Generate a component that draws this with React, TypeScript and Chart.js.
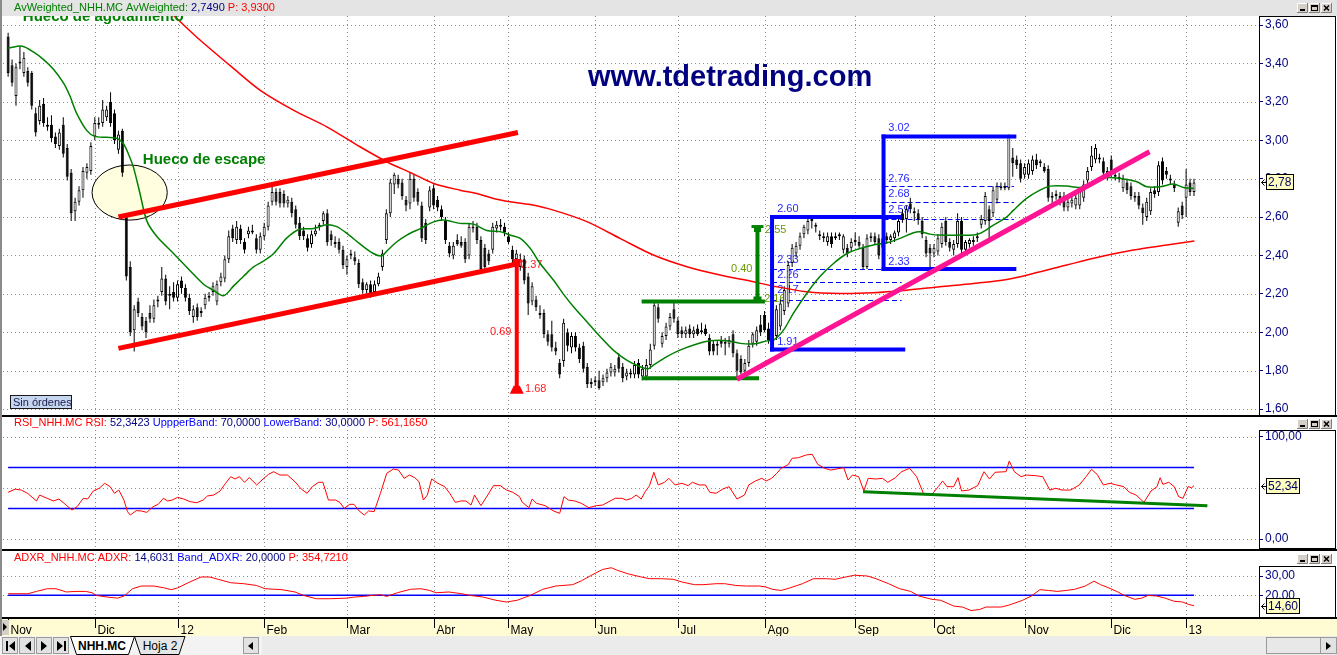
import React, { useEffect, useRef } from 'react';
import { Chart, registerables } from 'chart.js';

Chart.register(...registerables);

// ---------------- DATA ----------------
const OPEN = [
  3.54,3.39,3.23,3.40,3.35,3.36,3.35,3.14,3.10,3.19,
  3.08,3.08,3.02,2.97,3.08,2.96,2.83,2.63,2.68,2.74,
  2.83,2.84,3.02,3.09,3.09,3.12,3.20,3.14,2.95,3.05,
  2.61,2.34,2.01,2.16,2.08,2.06,2.10,2.07,2.16,2.21,
  2.28,2.19,2.21,2.18,2.27,2.23,2.18,2.08,2.13,2.10,
  2.14,2.18,2.21,2.16,2.26,2.28,2.38,2.54,2.48,2.54,
  2.47,2.51,2.53,2.49,2.43,2.50,2.55,2.68,2.73,2.73,
  2.72,2.67,2.68,2.64,2.57,2.53,2.49,2.46,2.51,2.55,
  2.58,2.62,2.51,2.47,2.47,2.43,2.34,2.40,2.39,2.36,
  2.26,2.22,2.25,2.21,2.25,2.34,2.48,2.62,2.77,2.80,
  2.78,2.69,2.67,2.80,2.73,2.66,2.57,2.65,2.75,2.69,
  2.64,2.58,2.45,2.40,2.48,2.47,2.47,2.40,2.54,2.55,
  2.48,2.44,2.41,2.43,2.54,2.55,2.55,2.50,2.43,2.38,
  2.34,2.38,2.29,2.16,2.17,2.10,2.10,1.99,1.99,1.92,
  1.84,1.85,2.00,1.92,1.98,1.92,1.93,1.82,1.73,1.74,
  1.75,1.74,1.76,1.79,1.79,1.87,1.82,1.77,1.78,1.78,
  1.84,1.77,1.77,1.83,1.93,2.13,1.94,1.98,2.03,2.12,
  2.06,2.01,1.99,2.02,1.99,2.02,2.01,2.02,1.97,1.94,
  1.93,1.96,1.95,1.94,1.99,1.89,1.86,1.80,1.84,1.94,
  1.95,2.04,2.09,2.02,1.96,1.98,2.03,2.11,2.15,2.36,
  2.41,2.45,2.51,2.53,2.58,2.56,2.51,2.50,2.47,2.50,
  2.49,2.50,2.43,2.44,2.44,2.48,2.47,2.44,2.34,2.50,
  2.50,2.49,2.44,2.50,2.48,2.49,2.52,2.62,2.59,2.67,
  2.63,2.62,2.58,2.48,2.44,2.41,2.42,2.46,2.58,2.47,
  2.43,2.46,2.58,2.43,2.46,2.47,2.49,2.56,2.58,2.64,
  2.62,2.69,2.75,2.75,2.75,2.91,2.90,2.88,2.82,2.82,
  2.84,2.90,2.88,2.86,2.85,2.70,2.71,2.71,2.71,2.65,
  2.67,2.66,2.66,2.70,2.79,2.86,2.90,2.91,2.89,2.84,
  2.90,2.82,2.80,2.75,2.78,2.76,2.70,2.71,2.65,2.60,
  2.63,2.74,2.73,2.89,2.84,2.80,2.77,2.57,2.66,2.70,
  2.78,2.73,
];
const HIGH = [
  3.56,3.42,3.40,3.49,3.46,3.38,3.36,3.17,3.21,3.22,
  3.12,3.13,3.04,3.06,3.12,2.98,2.85,2.70,2.76,2.86,
  2.88,2.99,3.12,3.12,3.21,3.18,3.25,3.16,3.05,3.06,
  2.62,2.37,2.14,2.18,2.10,2.08,2.14,2.17,2.19,2.34,
  2.30,2.24,2.26,2.27,2.29,2.25,2.20,2.14,2.15,2.13,
  2.20,2.21,2.26,2.27,2.31,2.40,2.53,2.56,2.58,2.56,
  2.49,2.55,2.56,2.51,2.52,2.57,2.68,2.78,2.75,2.75,
  2.74,2.71,2.70,2.66,2.60,2.55,2.51,2.53,2.56,2.57,
  2.63,2.64,2.53,2.50,2.49,2.45,2.40,2.43,2.42,2.38,
  2.28,2.26,2.27,2.27,2.31,2.43,2.64,2.80,2.83,2.82,
  2.80,2.71,2.83,2.82,2.75,2.68,2.59,2.76,2.77,2.71,
  2.66,2.60,2.47,2.47,2.51,2.50,2.49,2.57,2.58,2.57,
  2.50,2.46,2.43,2.57,2.58,2.59,2.57,2.52,2.45,2.43,
  2.41,2.40,2.31,2.26,2.19,2.14,2.12,2.01,2.06,1.95,
  1.86,2.07,2.02,2.00,2.00,1.94,1.95,1.84,1.76,1.77,
  1.80,1.78,1.81,1.84,1.83,1.89,1.84,1.81,1.81,1.85,
  1.86,1.83,1.86,1.94,2.16,2.15,2.00,2.05,2.10,2.16,
  2.08,2.03,2.03,2.04,2.03,2.04,2.05,2.04,1.99,1.96,
  1.96,1.98,1.97,1.98,2.01,1.91,1.88,1.86,1.96,2.00,
  2.03,2.09,2.11,2.05,2.00,2.14,2.17,2.24,2.37,2.46,
  2.47,2.52,2.56,2.59,2.60,2.57,2.53,2.52,2.52,2.52,
  2.52,2.52,2.51,2.46,2.49,2.52,2.50,2.46,2.51,2.52,
  2.52,2.51,2.51,2.52,2.51,2.53,2.60,2.64,2.66,2.70,
  2.65,2.64,2.60,2.50,2.46,2.46,2.51,2.57,2.60,2.49,
  2.48,2.62,2.60,2.48,2.49,2.50,2.52,2.61,2.73,2.66,
  2.76,2.78,2.78,2.78,3.03,2.96,2.92,2.90,2.88,2.90,
  2.92,2.93,2.90,2.88,2.87,2.73,2.74,2.73,2.73,2.70,
  2.71,2.72,2.75,2.79,2.86,2.97,2.98,2.93,2.91,2.86,
  2.92,2.84,2.83,2.82,2.80,2.78,2.73,2.73,2.67,2.70,
  2.75,2.76,2.89,2.91,2.86,2.82,2.79,2.65,2.68,2.85,
  2.80,2.80,
];
const LOW = [
  3.33,3.28,3.18,3.37,3.33,3.28,3.16,3.02,3.08,3.07,
  3.05,2.99,2.96,2.95,2.91,2.79,2.58,2.58,2.66,2.70,
  2.80,2.82,3.00,3.06,3.07,3.10,3.07,2.98,2.93,2.81,
  2.27,1.98,1.90,2.08,2.01,1.97,2.05,2.05,2.13,2.19,
  2.14,2.12,2.16,2.16,2.20,2.16,2.09,2.05,2.06,2.08,
  2.12,2.16,2.19,2.14,2.24,2.26,2.36,2.47,2.46,2.46,
  2.41,2.49,2.51,2.41,2.41,2.48,2.53,2.66,2.66,2.65,
  2.65,2.65,2.60,2.54,2.48,2.48,2.42,2.44,2.50,2.53,
  2.56,2.45,2.45,2.44,2.41,2.33,2.30,2.38,2.35,2.23,
  2.20,2.20,2.18,2.19,2.24,2.32,2.46,2.60,2.72,2.75,
  2.69,2.63,2.64,2.68,2.66,2.47,2.46,2.63,2.64,2.63,
  2.58,2.46,2.39,2.38,2.45,2.44,2.36,2.38,2.52,2.46,
  2.31,2.32,2.35,2.41,2.52,2.53,2.50,2.46,2.36,2.34,
  2.32,2.25,2.09,2.14,2.11,2.07,1.97,1.93,1.90,1.88,
  1.76,1.82,1.90,1.89,1.90,1.84,1.79,1.71,1.71,1.72,
  1.70,1.72,1.74,1.77,1.77,1.79,1.74,1.75,1.76,1.76,
  1.76,1.75,1.75,1.81,1.91,2.05,1.92,1.96,2.01,2.05,
  1.97,1.97,1.97,1.97,1.97,1.98,1.99,1.98,1.88,1.88,
  1.88,1.92,1.88,1.92,1.87,1.76,1.78,1.78,1.82,1.92,
  1.93,1.98,2.00,1.94,1.91,1.96,2.01,2.09,2.13,2.34,
  2.39,2.43,2.49,2.51,2.54,2.52,2.48,2.47,2.45,2.44,
  2.48,2.48,2.41,2.39,2.42,2.45,2.44,2.33,2.33,2.47,
  2.46,2.38,2.42,2.46,2.46,2.47,2.50,2.57,2.52,2.62,
  2.58,2.56,2.49,2.39,2.33,2.39,2.40,2.44,2.45,2.42,
  2.40,2.44,2.41,2.41,2.44,2.45,2.47,2.54,2.56,2.47,
  2.60,2.67,2.74,2.74,2.74,2.81,2.85,2.78,2.80,2.80,
  2.82,2.85,2.86,2.83,2.68,2.66,2.69,2.66,2.63,2.63,
  2.65,2.64,2.64,2.68,2.77,2.84,2.88,2.88,2.81,2.79,
  2.81,2.79,2.78,2.73,2.72,2.69,2.68,2.64,2.56,2.58,
  2.61,2.70,2.71,2.77,2.80,2.77,2.73,2.55,2.59,2.60,
  2.71,2.71,
];
const CLOSE = [
  3.35,3.30,3.38,3.41,3.43,3.30,3.18,3.04,3.18,3.09,
  3.07,3.01,2.98,3.04,2.93,2.81,2.62,2.68,2.74,2.84,
  2.86,2.97,3.09,3.08,3.16,3.16,3.09,3.00,3.03,2.83,
  2.29,2.00,2.12,2.10,2.03,2.00,2.07,2.14,2.17,2.28,
  2.16,2.20,2.18,2.25,2.23,2.18,2.11,2.12,2.08,2.11,
  2.18,2.19,2.24,2.25,2.29,2.38,2.50,2.49,2.55,2.48,
  2.43,2.53,2.52,2.43,2.50,2.55,2.66,2.73,2.68,2.67,
  2.67,2.69,2.62,2.56,2.50,2.50,2.44,2.51,2.53,2.55,
  2.62,2.47,2.48,2.46,2.43,2.35,2.38,2.41,2.37,2.25,
  2.22,2.25,2.20,2.25,2.29,2.41,2.62,2.78,2.82,2.77,
  2.71,2.66,2.80,2.70,2.68,2.49,2.48,2.74,2.66,2.65,
  2.60,2.48,2.41,2.45,2.46,2.45,2.38,2.55,2.55,2.48,
  2.33,2.34,2.37,2.55,2.56,2.56,2.52,2.47,2.38,2.41,
  2.38,2.27,2.15,2.24,2.13,2.09,1.99,1.95,1.92,1.90,
  1.78,2.05,1.93,1.98,1.92,1.86,1.81,1.73,1.74,1.75,
  1.71,1.76,1.79,1.82,1.81,1.81,1.76,1.79,1.78,1.83,
  1.78,1.81,1.83,1.91,2.14,2.07,1.98,2.03,2.08,2.07,
  1.99,1.99,2.01,1.99,2.01,1.99,2.00,1.99,1.90,1.90,
  1.94,1.94,1.94,1.96,1.89,1.80,1.79,1.84,1.93,1.99,
  2.01,2.00,2.01,1.96,1.98,2.12,2.15,2.22,2.35,2.44,
  2.45,2.50,2.55,2.58,2.59,2.55,2.50,2.49,2.50,2.46,
  2.50,2.50,2.50,2.41,2.47,2.47,2.45,2.34,2.49,2.49,
  2.47,2.40,2.49,2.48,2.50,2.52,2.58,2.59,2.64,2.64,
  2.62,2.59,2.51,2.41,2.41,2.44,2.49,2.55,2.47,2.44,
  2.46,2.58,2.43,2.47,2.48,2.48,2.50,2.59,2.71,2.58,
  2.74,2.76,2.76,2.76,3.02,2.88,2.87,2.80,2.86,2.88,
  2.90,2.87,2.88,2.84,2.70,2.71,2.72,2.68,2.65,2.68,
  2.69,2.70,2.73,2.77,2.84,2.92,2.96,2.90,2.83,2.81,
  2.83,2.81,2.80,2.80,2.74,2.71,2.71,2.66,2.62,2.68,
  2.73,2.72,2.87,2.79,2.82,2.79,2.75,2.63,2.61,2.77,
  2.73,2.78,
];

const MONTH_LABELS = ['Nov', 'Dic', '12', 'Feb', 'Mar', 'Abr', 'May', 'Jun', 'Jul', 'Ago', 'Sep', 'Oct', 'Nov', 'Dic', '13'];
const MONTH_START = [0, 22, 43, 65, 86, 108, 127, 149, 170, 192, 215, 235, 258, 280, 299];

const PRICE_TICKS = [1.6, 1.8, 2.0, 2.2, 2.4, 2.6, 2.8, 3.0, 3.2, 3.4, 3.6];

// AvWeighted (green): bar index / value
const AVW_IDX = [0, 3.6, 6.4, 9, 11.5, 14, 15.7, 17.4, 20, 22, 25, 27.6, 29.3, 30.5, 31.8, 33.5, 35.2, 37.7, 42, 46.2, 49.6, 52, 54.7, 57.2, 59.7, 62.3, 64.8, 67.4, 70.7, 74, 77.5, 80.9, 83.4, 86, 89.3, 92.7, 94.8, 96, 98.6, 101.2, 104.6, 108, 110.5, 114.7, 118.1, 121.5, 124.9, 127.4, 129.9, 132.5, 135, 138.4, 140.9, 143.5, 146.9, 150.3, 153.6, 157, 160.4, 162.5, 163.8, 167.2, 170.5, 174.8, 178.2, 182.4, 185.8, 189.2, 192.6, 194.3, 196.8, 199.3, 202.7, 206, 209.5, 212.9, 216.2, 219.6, 223, 226.4, 229.8, 231.5, 234, 236.5, 241.6, 245, 246.7, 250.1, 253.5, 255.2, 258.5, 261.9, 264.5, 268.7, 272, 274.6, 277.2, 280.5, 283.9, 286.5, 289, 292.4, 295.8, 298.3, 301];
const AVW_VAL = [3.48, 3.49, 3.46, 3.42, 3.37, 3.30, 3.23, 3.14, 3.05, 3.02, 3.015, 3.01, 2.98, 2.93, 2.86, 2.72, 2.58, 2.50, 2.41, 2.32, 2.25, 2.22, 2.19, 2.24, 2.29, 2.34, 2.37, 2.41, 2.49, 2.536, 2.54, 2.56, 2.55, 2.515, 2.46, 2.41, 2.397, 2.42, 2.47, 2.506, 2.54, 2.575, 2.584, 2.567, 2.563, 2.53, 2.524, 2.506, 2.49, 2.437, 2.359, 2.272, 2.20, 2.133, 2.055, 1.977, 1.907, 1.855, 1.82, 1.81, 1.829, 1.873, 1.907, 1.939, 1.956, 1.956, 1.942, 1.939, 1.955, 1.959, 2.011, 2.098, 2.202, 2.289, 2.358, 2.41, 2.436, 2.454, 2.466, 2.489, 2.518, 2.523, 2.511, 2.506, 2.506, 2.506, 2.515, 2.558, 2.601, 2.636, 2.697, 2.74, 2.761, 2.761, 2.754, 2.772, 2.801, 2.805, 2.796, 2.784, 2.758, 2.758, 2.772, 2.754, 2.749];

// long moving average (red)
const MA_IDX = [41.9, 48.7, 57.2, 64, 72.4, 80.9, 89.3, 96.1, 102.6, 108, 114.7, 119, 123.2, 127.4, 132.5, 138.4, 146.9, 155.3, 163.8, 172.3, 180.7, 189.2, 194.2, 202.7, 211.2, 219.6, 228, 236.5, 245, 253.5, 260.2, 268.7, 277.2, 285.6, 294.1, 301.1];
const MA_VAL = [3.652, 3.522, 3.374, 3.26, 3.157, 3.07, 2.966, 2.888, 2.827, 2.775, 2.74, 2.723, 2.697, 2.68, 2.665, 2.636, 2.576, 2.489, 2.402, 2.341, 2.298, 2.263, 2.24, 2.211, 2.202, 2.206, 2.219, 2.237, 2.254, 2.275, 2.306, 2.35, 2.393, 2.428, 2.454, 2.475];

const RSI_IDX = [0, 1.8, 3.4, 5, 7.2, 8, 9.9, 11.5, 12.9, 14.2, 16.2, 17.5, 19.1, 20.2, 21.6, 23.1, 24.5, 25.9, 27, 28.1, 29.4, 30.3, 31, 32.5, 33.8, 35.2, 36.8, 38.1, 39.4, 40.5, 41.6, 43, 44.6, 46.2, 47.9, 49.5, 50.6, 52.2, 53.8, 55.2, 56.5, 57.6, 58.7, 60, 61.2, 63.1, 64.7, 66.1, 67.4, 69, 70.9, 72.8, 74.4, 75.9, 77.2, 78.8, 79.9, 81.3, 83.1, 84.2, 85.3, 86.7, 87.8, 89.1, 90.4, 91.5, 92.9, 94.5, 96.1, 97.8, 99.1, 100.5, 101.9, 103.2, 104.3, 105.4, 106.4, 107.5, 109.1, 110.8, 112.1, 113.5, 114.9, 116.2, 117.5, 118.4, 120, 121.6, 123.2, 124.9, 126.5, 128.1, 129.8, 130.5, 132.2, 133, 134.1, 136.3, 138.4, 140, 141.1, 142.2, 143.8, 145.5, 147.4, 149.3, 150.9, 152.5, 154.1, 155.8, 156.9, 158.3, 159.4, 160.7, 161.7, 162.8, 163.9, 165, 166.6, 167.7, 169.3, 171, 172.6, 173.7, 175.4, 177, 178.1, 179.7, 181.4, 183, 185, 186.9, 188, 189.7, 191.3, 192.4, 193.8, 195.1, 196.2, 197.9, 199, 200.6, 202.6, 204.1, 205.5, 207.2, 208.8, 212.1, 213.2, 214.3, 215.9, 217.2, 218.3, 220.2, 221.9, 223.3, 225.2, 226.8, 228.8, 230.6, 232.3, 234.5, 236.1, 237.2, 238.3, 240, 241.1, 242, 243.9, 246.1, 247.7, 249.1, 250.5, 253.3, 254.1, 255.4, 257.1, 258.5, 260.7, 262.6, 264.4, 265.9, 267.5, 269.7, 271.9, 273.6, 275, 276.4, 278, 279.7, 281.3, 283.2, 284.6, 286.3, 288.3, 290.1, 291.6, 292.4, 293.1, 294.6, 296, 297.1, 298.2, 299.5, 300.4, 301];
const RSI_VAL = [45.8, 48.9, 47.9, 44.6, 37.3, 43.1, 39.9, 37.3, 39.2, 35, 28.4, 31.7, 39.9, 39.2, 47.1, 49.7, 54.6, 51.3, 44.8, 48, 38.2, 26.8, 23.5, 27.8, 27.5, 26.1, 31.7, 34, 39.9, 37.3, 38.2, 40.8, 39.2, 36.6, 35.6, 38.2, 42.2, 43.1, 47.1, 54.6, 61.1, 58.8, 61.1, 55.6, 60.2, 53, 58.8, 63.4, 66, 62.7, 62.7, 56.2, 49, 44.8, 51.3, 55.6, 55.6, 38.2, 38.2, 35.9, 30.1, 34, 34, 27.5, 23.5, 27.5, 26.8, 44.8, 64.4, 68.6, 67.6, 59.5, 62.7, 60.1, 56.2, 38.2, 43.1, 58.8, 54.6, 51.3, 44.8, 35.9, 37.3, 37.3, 33.3, 43.1, 32.7, 42.2, 52.3, 52.3, 48, 45.8, 41.5, 36, 30.7, 39.2, 35, 32.7, 27.5, 25.2, 41.5, 38.2, 37.3, 35, 30.7, 32.7, 33.3, 36.6, 39.9, 39.9, 38.2, 39.9, 43.1, 39.2, 46.4, 52.3, 65.4, 53, 55.6, 59.5, 53, 54.6, 52.3, 55.6, 53, 53, 45.8, 44.8, 49, 51.3, 39.2, 43.1, 53, 56.9, 59.5, 56.9, 59.5, 64.4, 69.3, 72.5, 79.1, 79.7, 82.4, 83, 73.2, 69.3, 67.6, 69.9, 57.8, 62.7, 61.1, 47.1, 59.5, 58.8, 59.5, 55.6, 60.1, 66, 69.3, 61.1, 44.8, 43.8, 51.3, 56.9, 51.3, 51.3, 60.1, 47.1, 48, 52.3, 66, 58.8, 65.4, 66, 76.4, 66, 61.1, 62.7, 62.1, 61.1, 48, 49.7, 48, 48, 53, 61.1, 68.3, 63.4, 53, 54.6, 53, 51.3, 45.8, 43.1, 36, 47.1, 51.3, 60.1, 53.6, 55.6, 51.3, 41.5, 39.9, 51.3, 50.3, 52.34];

const ADXR_IDX = [0, 5, 7.2, 9.9, 12.1, 14.8, 17, 19.7, 21.3, 22.4, 25.1, 27.8, 29.4, 31.6, 33.8, 37, 39.7, 41.4, 43, 45.7, 49, 51.1, 53.3, 56.5, 59.8, 63, 65.2, 69.5, 72.8, 75, 78.2, 81.5, 85.8, 88, 90.2, 92.3, 94.5, 96.1, 98.8, 102.1, 104.8, 107, 108.6, 111.9, 115.1, 117.3, 120.5, 123.8, 126.5, 129.2, 132.5, 135.7, 139, 143.3, 145.5, 148.7, 150.9, 153.1, 154.7, 157.4, 160.7, 162.8, 165.6, 168.8, 171, 174.2, 176.4, 179.7, 181.9, 184.7, 187.4, 190.7, 192.3, 194, 196.2, 198.4, 201.6, 204.4, 207.7, 209.9, 212.6, 214.8, 218.1, 220.3, 223.5, 226.3, 229.1, 231.2, 234.5, 236.7, 240, 242.2, 244.4, 246.6, 248.2, 252.1, 254.2, 257.5, 259.7, 261.9, 264.1, 266.3, 268.5, 270.7, 273.4, 275.6, 277.3, 279.4, 281.7, 283.3, 286, 287.7, 289.3, 291.5, 293.7, 295.9, 298.1, 299.7, 301];
const ADXR_VAL = [20.8, 20.8, 22, 23.4, 23.4, 21.7, 22, 22, 21.3, 19.9, 19.1, 18.5, 19.6, 23.4, 24.8, 24.8, 23.8, 22.9, 23.8, 26.5, 29.5, 29.5, 28.3, 26.5, 26, 25.1, 23.4, 22.9, 21.7, 19.9, 18.2, 18.2, 18.5, 19.1, 19.4, 19.9, 20.3, 19.4, 21.3, 23.1, 23.4, 22.5, 21.3, 21.7, 20.8, 19.9, 19.1, 17.4, 16.5, 17.4, 19.9, 23.1, 24.8, 25.5, 27.5, 31.1, 33.4, 34.3, 32.9, 31.1, 29.5, 28.6, 28.6, 28.3, 26.9, 25.5, 25.5, 26, 26, 25.1, 24.8, 24.8, 24.3, 23.1, 22.5, 23.8, 26, 28.6, 28.6, 28.3, 29.5, 30.4, 30, 28.6, 26, 23.4, 22, 19.6, 17.9, 17.4, 14.4, 13.9, 12.1, 12.6, 13.9, 13.9, 15, 17.4, 19.6, 22.9, 22.5, 22, 22.5, 23.1, 24.8, 27.3, 25.5, 23.8, 21.7, 19.9, 17.9, 18.5, 19.9, 19.6, 18.5, 16.9, 16.5, 15.2, 14.6];

const RSI_TICKS = [0, 100];
const RSI_GRID = [0, 50, 100];
const RSI_BANDS = [70, 30];
const RSI_TREND = [217, 46.4, 304.4, 32.6];
const ADXR_TICKS = [20, 30];
const ADXR_GRID = [20, 30];
const ADXR_BAND = 20;
const LAST_PRICE = 2.78;
const LAST_RSI = 52.34;
const LAST_ADXR = 14.6;

// hand-drawn study objects: [index1, price1, index2, price2]
const RED_LINES = [
  [28.0, 2.600, 129.4, 3.040],
  [28.0, 1.916, 130.0, 2.359],
];
const RED_ARROW = [129.1, 2.376, 1.69];
const GREEN_LINES = [
  [160.8, 2.16, 192.1, 2.16],
  [160.8, 1.76, 190.6, 1.76],
];
const GREEN_ARROW = [190.2, 2.553, 2.16];
const PINK_LINE = [185.0, 1.755, 289.7, 2.94];
const BLUE_LINES = [
  [193.9, 2.60, 193.9, 1.91],
  [193.9, 2.60, 226.4, 2.60],
  [193.9, 1.91, 227.2, 1.91],
  [222.2, 3.02, 222.2, 2.33],
  [222.2, 3.02, 255.4, 3.02],
  [222.2, 2.33, 255.4, 2.33],
];
const BLUE_DASHED = [
  [193.9, 2.33, 226.8], [193.9, 2.26, 226.8], [193.9, 2.17, 226.8],
  [222.2, 2.76, 255.3], [222.2, 2.68, 255.3], [222.2, 2.59, 255.3],
];
const RED_LABELS = [['2.37', 130.2, 2.35], ['0.69', 122.3, 2.001], ['1.68', 131.2, 1.704]];
const GREEN_LABELS = [['2.55', 192.1, 2.532], ['0.40', 183.5, 2.329], ['2.16', 191.9, 2.173]];
const BLUE_LABELS = [
  ['2.60', 195.2, 2.642], ['2.33', 195.2, 2.376], ['2.26', 195.2, 2.298], ['2.17', 195.2, 2.22], ['1.91', 195.2, 1.949],
  ['3.02', 223.4, 3.064], ['2.76', 223.4, 2.798], ['2.68', 223.4, 2.72], ['2.59', 223.4, 2.636], ['2.33', 223.4, 2.366],
];
const ELLIPSE = [21.3, 2.871, 40.4, 2.584];
const TEXT_ESCAPE = ['Hueco de escape', 34.2, 2.897];
const TEXT_AGOTAMIENTO = ['Hueco de agotamiento', 3.73, 3.623];
const WATERMARK = ['www.tdetrading.com', 147.2, 3.324];

// ---------------- helpers ----------------
const FONT = 'Arial, "Liberation Sans", Helvetica, sans-serif';
const X_MIN = -1.3;
const X_MAX = 317.5;
const fmt = (v: number, d: number) => v.toFixed(d).replace('.', ',');

const xScaleOpts = () => ({ type: 'linear', min: X_MIN, max: X_MAX, display: false, offset: false });

function rightAxis(min: number, max: number, ticks: number[]) {
  return {
    type: 'linear', position: 'right', min, max, stacked: false,
    afterBuildTicks: (ax: any) => { ax.ticks = ticks.map((v) => ({ value: v })); },
    afterFit: (ax: any) => { ax.width = 78; ax.paddingTop = 0; ax.paddingBottom = 0; ax.paddingLeft = 0; ax.paddingRight = 0; },
    ticks: { color: '#000080', font: { family: FONT, size: 12 }, padding: 2, autoSkip: false, callback: (v: any) => fmt(Number(v), 2) },
    grid: { drawOnChartArea: false, drawTicks: true, tickLength: 4, tickColor: '#000080', tickWidth: 1 },
    border: { display: false },
  };
}

function drawDotted(chart: any, yVals: number[]) {
  const { ctx, chartArea: a, scales } = chart;
  ctx.save();
  ctx.strokeStyle = '#8c8c8c';
  ctx.lineWidth = 1;
  ctx.setLineDash([1, 3]);
  ctx.beginPath();
  MONTH_START.slice(1).forEach((m) => {
    const x = Math.round(scales.x.getPixelForValue(m)) + 0.5;
    ctx.moveTo(x, a.top);
    ctx.lineTo(x, a.bottom);
  });
  yVals.forEach((v) => {
    const y = Math.round(scales.y.getPixelForValue(v)) + 0.5;
    ctx.moveTo(a.left, y);
    ctx.lineTo(a.right, y);
  });
  ctx.stroke();
  ctx.restore();
}

function drawSegments(ctx: any, x: number, y: number, segs: any[]) {
  ctx.save();
  ctx.font = `11px ${FONT}`;
  ctx.textBaseline = 'middle';
  ctx.textAlign = 'left';
  for (const [t, c] of segs) {
    ctx.fillStyle = c;
    ctx.fillText(t, x, y);
    x += ctx.measureText(t).width;
  }
  ctx.restore();
}

function drawButtons(ctx: any, y: number) {
  ctx.save();
  [1297, 1309, 1321].forEach((x, k) => {
    ctx.fillStyle = '#d4d0c8';
    ctx.fillRect(x, y, 11, 10);
    ctx.strokeStyle = '#ffffff';
    ctx.lineWidth = 1;
    ctx.beginPath(); ctx.moveTo(x + 0.5, y + 10); ctx.lineTo(x + 0.5, y + 0.5); ctx.lineTo(x + 11, y + 0.5); ctx.stroke();
    ctx.strokeStyle = '#808080';
    ctx.beginPath(); ctx.moveTo(x + 10.5, y); ctx.lineTo(x + 10.5, y + 9.5); ctx.lineTo(x, y + 9.5); ctx.stroke();
    ctx.fillStyle = '#000';
    ctx.strokeStyle = '#000';
    if (k === 0) ctx.fillRect(x + 3, y + 6, 5, 2);
    if (k === 1) { ctx.strokeRect(x + 2.5, y + 2.5, 6, 5); ctx.fillRect(x + 2, y + 2, 7, 2); }
    if (k === 2) {
      ctx.lineWidth = 1.5;
      ctx.beginPath(); ctx.moveTo(x + 3, y + 2.5); ctx.lineTo(x + 8, y + 7.5); ctx.moveTo(x + 8, y + 2.5); ctx.lineTo(x + 3, y + 7.5); ctx.stroke();
    }
  });
  ctx.restore();
}

function axisBox(ctx: any, top: number, bottom: number) {
  ctx.save();
  ctx.strokeStyle = '#000';
  ctx.lineWidth = 1;
  ctx.strokeRect(1259.5, top + 0.5, 76, bottom - top - 1);
  ctx.restore();
}

function valueBox(ctx: any, y: number, text: string, w: number) {
  ctx.save();
  ctx.fillStyle = '#ffffc0';
  ctx.fillRect(1266, Math.round(y) - 8, w, 16);
  ctx.strokeStyle = '#000';
  ctx.lineWidth = 1;
  ctx.strokeRect(1266.5, Math.round(y) - 7.5, w - 1, 15);
  ctx.font = `12px ${FONT}`;
  ctx.textBaseline = 'middle';
  ctx.textAlign = 'left';
  ctx.fillStyle = '#000060';
  ctx.fillText(text, 1268, Math.round(y) + 0.5);
  ctx.strokeStyle = '#000';
  ctx.beginPath();
  const yy = Math.round(y) + 0.5;
  ctx.moveTo(1264.5, yy - 3); ctx.lineTo(1261.5, yy); ctx.lineTo(1264.5, yy + 3);
  ctx.moveTo(1261.5, yy); ctx.lineTo(1266, yy);
  ctx.stroke();
  ctx.restore();
}

function seg(chart: any, s: number[], color: string, width: number, cap = 'butt') {
  const { ctx, scales: { x, y } } = chart;
  ctx.save();
  ctx.strokeStyle = color;
  ctx.lineWidth = width;
  ctx.lineCap = cap;
  ctx.beginPath();
  ctx.moveTo(x.getPixelForValue(s[0]), y.getPixelForValue(s[1]));
  ctx.lineTo(x.getPixelForValue(s[2]), y.getPixelForValue(s[3]));
  ctx.stroke();
  ctx.restore();
}

function labels(chart: any, list: any[], color: string) {
  const { ctx, scales: { x, y } } = chart;
  ctx.save();
  ctx.font = `11px ${FONT}`;
  ctx.textBaseline = 'middle';
  ctx.textAlign = 'left';
  ctx.fillStyle = color;
  list.forEach(([t, i, p]) => ctx.fillText(t, x.getPixelForValue(i), y.getPixelForValue(p)));
  ctx.restore();
}

// ---------------- main price panel ----------------
const mainPlugin = {
  id: 'mainDeco',
  beforeDatasetsDraw(chart: any) {
    const { ctx, scales: { x, y } } = chart;
    drawDotted(chart, PRICE_TICKS);
    // ellipse
    const ex1 = x.getPixelForValue(ELLIPSE[0]); const ey1 = y.getPixelForValue(ELLIPSE[1]);
    const ex2 = x.getPixelForValue(ELLIPSE[2]); const ey2 = y.getPixelForValue(ELLIPSE[3]);
    ctx.save();
    ctx.beginPath();
    ctx.ellipse((ex1 + ex2) / 2, (ey1 + ey2) / 2, (ex2 - ex1) / 2, (ey2 - ey1) / 2, 0, 0, Math.PI * 2);
    ctx.fillStyle = '#ffffe0';
    ctx.fill();
    ctx.strokeStyle = '#000';
    ctx.lineWidth = 1;
    ctx.stroke();
    ctx.restore();
    // dashed retracements
    ctx.save();
    ctx.strokeStyle = '#0000ff';
    ctx.lineWidth = 1;
    ctx.setLineDash([5, 3]);
    BLUE_DASHED.forEach(([i1, p, i2]) => {
      const yy = Math.round(y.getPixelForValue(p)) + 0.5;
      ctx.beginPath();
      ctx.moveTo(x.getPixelForValue(i1), yy);
      ctx.lineTo(x.getPixelForValue(i2), yy);
      ctx.stroke();
    });
    ctx.restore();
    labels(chart, RED_LABELS, '#ff2020');
    labels(chart, GREEN_LABELS, '#6a9a00');
    labels(chart, BLUE_LABELS, '#2a2aff');
    ctx.save();
    ctx.textBaseline = 'middle';
    ctx.textAlign = 'left';
    ctx.font = `bold 15px ${FONT}`;
    ctx.fillStyle = '#008000';
    ctx.fillText(TEXT_ESCAPE[0], x.getPixelForValue(TEXT_ESCAPE[1]), y.getPixelForValue(TEXT_ESCAPE[2]));
    ctx.font = `bold 29px ${FONT}`;
    ctx.fillStyle = '#000080';
    ctx.fillText(WATERMARK[0], x.getPixelForValue(WATERMARK[1]), y.getPixelForValue(WATERMARK[2]));
    ctx.restore();
  },
  afterDatasetsDraw(chart: any) {
    const { ctx, scales: { x, y } } = chart;
    RED_LINES.forEach((s) => seg(chart, s, '#ff0000', 5));
    GREEN_LINES.forEach((s) => seg(chart, s, '#008000', 4));
    BLUE_LINES.forEach((s) => seg(chart, s, '#0000ff', 4, 'square'));
    seg(chart, PINK_LINE, '#ff1493', 5);
    // red arrow
    const rx = x.getPixelForValue(RED_ARROW[0]);
    const rt = y.getPixelForValue(RED_ARROW[1]);
    const rb = y.getPixelForValue(RED_ARROW[2]);
    seg(chart, [RED_ARROW[0], RED_ARROW[1], RED_ARROW[0], RED_ARROW[2]], '#ff0000', 4);
    ctx.save();
    ctx.fillStyle = '#ff0000';
    ctx.fillRect(rx - 4, rt - 1, 8, 4);
    ctx.beginPath();
    ctx.moveTo(rx - 3, rb - 6); ctx.lineTo(rx + 3, rb - 6); ctx.lineTo(rx + 7, rb + 2); ctx.lineTo(rx - 7, rb + 2); ctx.closePath();
    ctx.fill();
    ctx.restore();
    // green arrow
    const gx = x.getPixelForValue(GREEN_ARROW[0]);
    const gt = y.getPixelForValue(GREEN_ARROW[1]);
    const gb = y.getPixelForValue(GREEN_ARROW[2]);
    seg(chart, [GREEN_ARROW[0], GREEN_ARROW[1], GREEN_ARROW[0], GREEN_ARROW[2]], '#008000', 4);
    ctx.save();
    ctx.fillStyle = '#008000';
    ctx.fillRect(gx - 6, gt - 1, 12, 3);
    ctx.fillRect(gx - 3.5, gt + 2, 7, 4);
    ctx.fillRect(gx - 4, gb - 5, 8, 4);
    ctx.restore();
    // agotamiento text (partly under the title bar)
    ctx.save();
    ctx.font = `bold 15px ${FONT}`;
    ctx.fillStyle = '#008000';
    ctx.textBaseline = 'alphabetic';
    ctx.textAlign = 'left';
    ctx.fillText(TEXT_AGOTAMIENTO[0], x.getPixelForValue(TEXT_AGOTAMIENTO[1]), y.getPixelForValue(TEXT_AGOTAMIENTO[2]));
    ctx.restore();
    // Sin órdenes
    ctx.save();
    ctx.fillStyle = '#c6d6ee';
    ctx.fillRect(10, 395, 62, 14);
    ctx.strokeStyle = '#1a1a1a';
    ctx.lineWidth = 1;
    ctx.strokeRect(10.5, 395.5, 61, 13);
    ctx.fillStyle = '#1a1a50';
    ctx.font = `11px ${FONT}`;
    ctx.textBaseline = 'middle';
    ctx.fillText('Sin órdenes', 13, 402.5);
    ctx.restore();
  },
  afterDraw(chart: any) {
    const { ctx, scales: { y } } = chart;
    axisBox(ctx, 16, 416);
    valueBox(ctx, y.getPixelForValue(LAST_PRICE), fmt(LAST_PRICE, 2), 28);
    ctx.save();
    ctx.fillStyle = '#e4e4e4';
    ctx.fillRect(0, 0, 1337, 16);
    ctx.restore();
    drawSegments(ctx, 14, 7.5, [
      ['AvWeighted_NHH.MC AvWeighted: ', '#008000'],
      ['2,7490', '#000080'],
      [' P: 3,9300', '#ff0000'],
    ]);
    drawButtons(ctx, 3);
  },
};

function mainConfig(): any {
  const idx = CLOSE.map((_, i) => i);
  return {
    type: 'bar',
    data: {
      datasets: [
        {
          type: 'bar', data: idx.map((i) => ({ x: i, y: [LOW[i], HIGH[i]] })),
          backgroundColor: '#000', borderWidth: 0, barThickness: 1, grouped: false, minBarLength: 1, inflateAmount: 0, order: 4,
        },
        {
          type: 'bar', data: idx.map((i) => ({ x: i, y: [Math.min(OPEN[i], CLOSE[i]), Math.max(OPEN[i], CLOSE[i])] })),
          backgroundColor: idx.map((i) => (CLOSE[i] >= OPEN[i] ? '#ffffff' : '#000000')),
          borderColor: '#000', borderWidth: 1, borderSkipped: false, barThickness: 3, grouped: false, minBarLength: 2, inflateAmount: 0, order: 3,
        },
        {
          type: 'line', data: MA_IDX.map((i, k) => ({ x: i, y: MA_VAL[k] })),
          borderColor: '#ff0000', borderWidth: 1.5, pointRadius: 0, tension: 0.3, order: 2,
        },
        {
          type: 'line', data: AVW_IDX.map((i, k) => ({ x: i, y: AVW_VAL[k] })),
          borderColor: '#008000', borderWidth: 1.5, pointRadius: 0, tension: 0.3, order: 1,
        },
      ],
    },
    options: {
      responsive: false, animation: false, events: [],
      layout: { padding: { left: 3, top: 16, right: 0, bottom: 1 } },
      plugins: { legend: { display: false }, tooltip: { enabled: false } },
      scales: { x: xScaleOpts(), y: rightAxis(1.569, 3.647, PRICE_TICKS) },
    },
    plugins: [mainPlugin],
  };
}

// ---------------- RSI ----------------
const rsiPlugin = {
  id: 'rsiDeco',
  beforeDatasetsDraw(chart: any) { drawDotted(chart, RSI_GRID); },
  afterDraw(chart: any) {
    const { ctx, scales: { y } } = chart;
    axisBox(ctx, 14, 133);
    valueBox(ctx, y.getPixelForValue(LAST_RSI), fmt(LAST_RSI, 2), 34);
    drawSegments(ctx, 14, 6.5, [
      ['RSI_NHH.MC RSI: ', '#ff0000'], ['52,3423', '#000080'],
      [' UppperBand: ', '#0000ff'], ['70,0000', '#000080'],
      [' LowerBand: ', '#0000ff'], ['30,0000', '#000080'],
      [' P: 561,1650', '#ff0000'],
    ]);
    drawButtons(ctx, 3);
  },
};

function rsiConfig(): any {
  return {
    type: 'line',
    data: {
      datasets: [
        { data: [{ x: RSI_TREND[0], y: RSI_TREND[1] }, { x: RSI_TREND[2], y: RSI_TREND[3] }], borderColor: '#008000', borderWidth: 3, pointRadius: 0, order: 0 },
        { data: RSI_IDX.map((i, k) => ({ x: i, y: RSI_VAL[k] })), borderColor: '#ff0000', borderWidth: 1, pointRadius: 0, order: 1 },
        ...RSI_BANDS.map((b) => ({ data: [{ x: 0, y: b }, { x: 301, y: b }], borderColor: '#0000ff', borderWidth: 1.5, pointRadius: 0, order: 2 })),
      ],
    },
    options: {
      responsive: false, animation: false, events: [],
      layout: { padding: { left: 3, top: 2, right: 0, bottom: 1 } },
      plugins: { legend: { display: false }, tooltip: { enabled: false } },
      scales: { x: xScaleOpts(), y: rightAxis(-8.8, 118.6, RSI_TICKS) },
    },
    plugins: [rsiPlugin],
  };
}

// ---------------- ADXR + time axis ----------------
const adxPlugin = {
  id: 'adxDeco',
  beforeDatasetsDraw(chart: any) { drawDotted(chart, ADXR_GRID); },
  afterDraw(chart: any) {
    const { ctx, scales: { x, y } } = chart;
    axisBox(ctx, 17, 70);
    valueBox(ctx, y.getPixelForValue(LAST_ADXR), fmt(LAST_ADXR, 2), 34);
    drawSegments(ctx, 14, 9, [
      ['ADXR_NHH.MC ADXR: ', '#ff0000'], ['14,6031', '#000080'],
      [' Band_ADXR: ', '#0000ff'], ['20,0000', '#000080'],
      [' P: 354,7210', '#ff0000'],
    ]);
    drawButtons(ctx, 5);
    // time axis strip
    ctx.save();
    ctx.fillStyle = '#fffbd2';
    ctx.fillRect(0, 70, 1337, 17);
    ctx.strokeStyle = '#000';
    ctx.lineWidth = 1;
    ctx.font = `12px ${FONT}`;
    ctx.textBaseline = 'middle';
    ctx.textAlign = 'left';
    ctx.fillStyle = '#000';
    MONTH_START.forEach((m, k) => {
      const px = Math.round(x.getPixelForValue(m)) + 0.5;
      ctx.beginPath();
      ctx.moveTo(px, 69);
      ctx.lineTo(px, 79);
      ctx.stroke();
      ctx.fillText(MONTH_LABELS[k], px + 2, 82);
    });
    ctx.fillStyle = '#d4d0c8';
    ctx.fillRect(1, 71, 8, 15);
    ctx.fillStyle = '#000';
    ctx.beginPath();
    ctx.moveTo(3, 74); ctx.lineTo(7, 78); ctx.lineTo(3, 82); ctx.closePath();
    ctx.fill();
    ctx.restore();
  },
};

function adxConfig(): any {
  return {
    type: 'line',
    data: {
      datasets: [
        { data: ADXR_IDX.map((i, k) => ({ x: i, y: ADXR_VAL[k] })), borderColor: '#ff0000', borderWidth: 1, pointRadius: 0, order: 0 },
        { data: [{ x: 0, y: ADXR_BAND }, { x: 301, y: ADXR_BAND }], borderColor: '#0000ff', borderWidth: 1.5, pointRadius: 0, order: 1 },
      ],
    },
    options: {
      responsive: false, animation: false, events: [],
      layout: { padding: { left: 3, top: 1, right: 0, bottom: 18 } },
      plugins: { legend: { display: false }, tooltip: { enabled: false } },
      scales: { x: xScaleOpts(), y: rightAxis(8.2, 43.5, ADXR_TICKS) },
    },
    plugins: [adxPlugin],
  };
}

function TabBar() {
  const navX = [2, 19, 36, 53];
  return (
    <svg width={1337} height={19} style={{ position: 'absolute', left: 0, top: 636 }}>
      <rect x={0} y={0} width={1337} height={19} fill="#ebebeb" />
      <rect x={0} y={0} width={262} height={19} fill="#f3f3f3" />
      {navX.map((nx) => (
        <rect key={nx} x={nx + 0.5} y={1.5} width={15} height={16} fill="#e2e2e2" stroke="#9a9a9a" />
      ))}
      <rect x={6} y={5} width={2} height={10} fill="#000" />
      <polygon points="15,5 9,10 15,15" fill="#000" />
      <polygon points="31,5 25,10 31,15" fill="#000" />
      <polygon points="41,5 47,10 41,15" fill="#000" />
      <polygon points="57,5 63,10 57,15" fill="#000" />
      <rect x={64} y={5} width={2} height={10} fill="#000" />
      <polygon points="134.5,0.5 185,0.5 179,18.5 140.5,18.5" fill="#e6e6e6" stroke="#000" />
      <text x={160} y={14} fontSize={12} fontFamily={FONT} textAnchor="middle" fill="#000">Hoja 2</text>
      <polygon points="70.5,0.5 134.5,0.5 128.5,18.5 76.5,18.5" fill="#ffffff" stroke="#000" />
      <text x={102} y={14} fontSize={12} fontWeight="bold" fontFamily={FONT} textAnchor="middle" fill="#000">NHH.MC</text>
      <rect x={243.5} y={1.5} width={15} height={16} fill="#e2e2e2" stroke="#9a9a9a" />
      <polygon points="253,6 248,10 253,14" fill="#000" />
      <rect x={1266.5} y={1.5} width={54} height={16} fill="#e8e8e8" stroke="#9a9a9a" />
      <rect x={1320.5} y={1.5} width={16} height={16} fill="#e2e2e2" stroke="#9a9a9a" />
      <polygon points="1326,6 1331,10 1326,14" fill="#000" />
    </svg>
  );
}

export default function App() {
  const mainRef = useRef<HTMLCanvasElement>(null);
  const rsiRef = useRef<HTMLCanvasElement>(null);
  const adxRef = useRef<HTMLCanvasElement>(null);

  useEffect(() => {
    const charts = [
      new Chart(mainRef.current as HTMLCanvasElement, mainConfig()),
      new Chart(rsiRef.current as HTMLCanvasElement, rsiConfig()),
      new Chart(adxRef.current as HTMLCanvasElement, adxConfig()),
    ];
    return () => charts.forEach((c) => c.destroy());
  }, []);

  return (
    <div style={{ position: 'absolute', left: 0, top: 0, width: 1337, height: 655, overflow: 'hidden', background: '#ffffff' }}>
      <canvas ref={mainRef} width={1337} height={416} style={{ position: 'absolute', left: 0, top: 0 }} />
      <canvas ref={rsiRef} width={1337} height={133} style={{ position: 'absolute', left: 0, top: 416 }} />
      <canvas ref={adxRef} width={1337} height={87} style={{ position: 'absolute', left: 0, top: 549 }} />
      <div style={{ position: 'absolute', left: 0, top: 415, width: 1337, height: 2, background: '#000' }} />
      <div style={{ position: 'absolute', left: 0, top: 549, width: 1337, height: 2, background: '#000' }} />
      <div style={{ position: 'absolute', left: 0, top: 617, width: 1337, height: 2, background: '#000' }} />
      <div style={{ position: 'absolute', left: 0, top: 0, width: 2, height: 636, background: '#8a8a8a' }} />
      <TabBar />
    </div>
  );
}
